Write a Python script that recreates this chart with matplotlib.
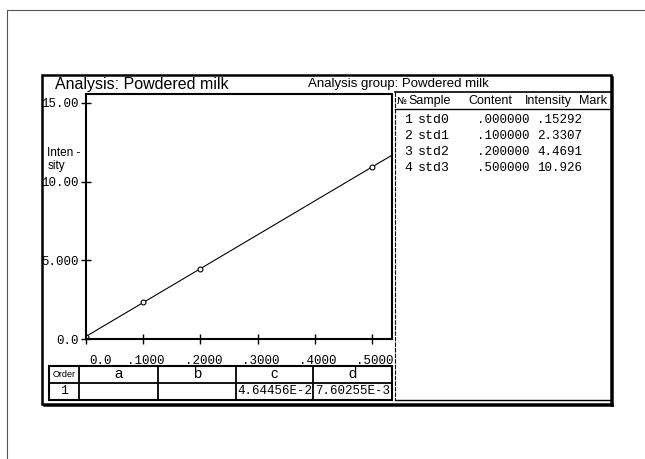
import numpy as np
import matplotlib
matplotlib.use("Agg")
import matplotlib.pyplot as plt
import matplotlib.transforms as mtransforms
from matplotlib.patches import Rectangle

# calibration standards
samples = ["std0", "std1", "std2", "std3"]
content = [0.0, 0.1, 0.2, 0.5]
intensity = [0.15292, 2.3307, 4.4691, 10.926]
content_txt = [".000000", ".100000", ".200000", ".500000"]
intensity_txt = [".15292", "2.3307", "4.4691", "10.926"]

xticks = [0.0, 0.1, 0.2, 0.3, 0.4, 0.5]
xtick_labels = ["0.0", ".1000", ".2000", ".3000", ".4000", ".5000"]
yticks = [0, 5, 10, 15]
ytick_labels = ["0.0", "5.000", "10.00", "15.00"]

coef_names = ["a", "b", "c", "d"]
coef_values = ["", "", "4.64456E-2", "7.60255E-3"]

sans = "Liberation Sans"
mono = "Liberation Mono"

W, H = 645, 459
fig = plt.figure(figsize=(W / 100, H / 100), dpi=100)

# background layer in pixel coordinates (frames, tables, labels)
bg = fig.add_axes([0, 0, 1, 1])
bg.set_xlim(0, W)
bg.set_ylim(H, 0)
bg.axis("off")

# page edge
bg.plot([7, 7, W], [H, 10, 10], color="#555555", lw=0.8)

# main frame + shadow
bg.add_patch(Rectangle((42, 75), 569, 329, fill=False, ec="black", lw=1.8))
bg.plot([44, 612], [405, 405], color="black", lw=1.8)
bg.plot([612, 612], [77, 405], color="black", lw=1.8)

bg.text(55, 84, "Analysis: Powdered milk", fontsize=11.5, family=sans, va="center")
bg.text(308, 84, "Analysis group: Powdered milk", fontsize=9.5, family=sans, va="center")

# right sample table
bg.plot([395, 611], [92, 92], color="black", lw=1.2)
bg.plot([395, 395], [92, 400], color="black", lw=0.8, ls=(0, (4, 1)))
bg.plot([395, 611], [109, 109], color="black", lw=1.0)
bg.plot([395, 611], [400, 400], color="black", lw=1.0)
hy = 101
bg.text(397, hy, "№", fontsize=7, family="DejaVu Sans", va="center")
bg.text(408, hy, "Sample", fontsize=9, family=sans, va="center")
bg.text(468, hy, "Content", fontsize=9, family=sans, va="center")
bg.text(525, hy, "Intensity", fontsize=9, family=sans, va="center")
bg.text(579, hy, "Mark", fontsize=9, family=sans, va="center")
for i, (s, c, it) in enumerate(zip(samples, content_txt, intensity_txt)):
    ry = 120 + i * 16
    bg.text(404, ry, str(i + 1), fontsize=9.5, family=mono, va="center")
    bg.text(418, ry, s, fontsize=9.5, family=mono, va="center")
    bg.text(529, ry, c, fontsize=9, family=mono, va="center", ha="right")
    bg.text(537, ry, it, fontsize=9, family=mono, va="center")

# bottom coefficient table
cols = [49, 79, 158, 236, 313, 392]
bg.add_patch(Rectangle((49, 366), 343, 34, fill=False, ec="black", lw=1.5))
bg.plot([49, 392], [383, 383], color="black", lw=1.3)
for cx in cols[1:-1]:
    bg.plot([cx, cx], [366, 400], color="black", lw=1.3)
bg.text(64, 374.5, "Order", fontsize=6.5, family=sans, ha="center", va="center")
bg.text(64, 391.5, "1", fontsize=9.5, family=mono, ha="center", va="center")
for k, (nm, val) in enumerate(zip(coef_names, coef_values)):
    mid = (cols[k + 1] + cols[k + 2]) / 2
    bg.text(mid, 374.5, nm, fontsize=10.5, family=sans, ha="center", va="center")
    bg.text(mid, 391.5, val, fontsize=9, family=mono, ha="center", va="center")

# calibration plot
ax = fig.add_axes([86 / W, 1 - 339 / H, (392 - 86) / W, (339 - 94) / H])
ax.set_xlim(0, 0.535)
ax.set_ylim(0, 15.57)
fit = np.polyfit(content, intensity, 1)
xl = np.array(ax.get_xlim())
ax.plot(xl, np.polyval(fit, xl), color="black", lw=0.8)
ax.plot(content, intensity, "o", mfc="white", mec="black", ms=3.5, mew=0.8)

ax.set_xticks(xticks)
ax.set_xticklabels(xtick_labels, family=mono, fontsize=9)
ax.set_yticks(yticks)
ax.set_yticklabels(ytick_labels, family=mono, fontsize=9)
ax.tick_params(axis="x", direction="inout", length=7, width=1, pad=8)
ax.tick_params(axis="y", direction="inout", length=7, width=1, pad=2)
for sp in ax.spines.values():
    sp.set_linewidth(1.5)
shift = mtransforms.ScaledTranslation(3 / 100, 0, fig.dpi_scale_trans)
for lbl in ax.get_xticklabels():
    lbl.set_transform(lbl.get_transform() + shift)
ax.get_xticklabels()[0].set_ha("left")

# plot annotations
bg.text(93, 120, "Zn", fontsize=10, family=mono, va="center")
bg.text(93, 154, "213.856", fontsize=9.5, family=mono, va="center")
bg.text(47, 153, "Inten -", fontsize=8.5, family=sans, va="center")
bg.text(48, 166, "sity", fontsize=8.5, family=sans, va="center")
bg.text(308, 288, "S D", fontsize=10.5, family=sans, va="center")
bg.text(386, 288, ".00048", fontsize=9.5, family=mono, va="center", ha="right")
bg.text(273, 305, "Correlation", fontsize=9.5, family=sans, va="center")
bg.text(386, 305, "1.0000", fontsize=9.5, family=mono, va="center", ha="right")
bg.text(292, 321, "Content", fontsize=9.5, family=sans, va="center")
bg.text(355, 323, "PPM", fontsize=6.5, family=mono, weight="bold", va="center")

fig.savefig("out.png", dpi=100)
